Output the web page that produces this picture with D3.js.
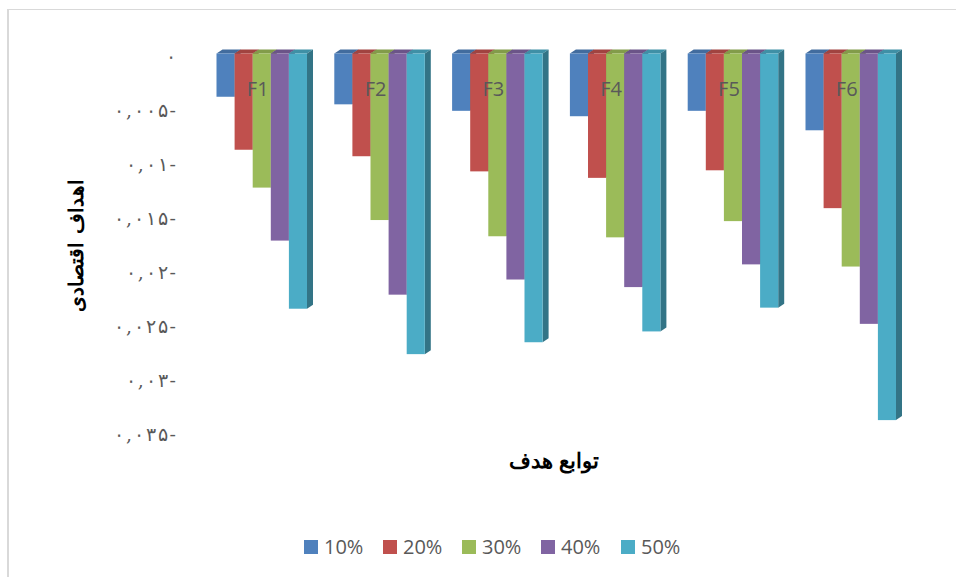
<!DOCTYPE html>
<html>
<head>
<meta charset="utf-8">
<style>
html,body{margin:0;padding:0;background:#fff;}
svg{display:block;}
</style>
<script src="https://cdn.jsdelivr.net/npm/d3@7"></script>
</head>
<body>
<svg id="chart" width="956" height="577"></svg>
<script>
const categories = ["F1","F2","F3","F4","F5","F6"];
const seriesNames = ["10%","20%","30%","40%","50%"];
const seriesColors = ["#4f81bd","#c0504d","#9bbb59","#8064a2","#4bacc6"];
const values10 = [-0.0040,-0.0047,-0.0053,-0.0058,-0.0053,-0.0071];
const values20 = [-0.0089,-0.0095,-0.0109,-0.0115,-0.0108,-0.0143];
const values30 = [-0.0124,-0.0154,-0.0169,-0.0170,-0.0155,-0.0197];
const values40 = [-0.0173,-0.0223,-0.0209,-0.0216,-0.0195,-0.0250];
const values50 = [-0.0236,-0.0278,-0.0267,-0.0257,-0.0235,-0.0339];
const seriesValues = [values10,values20,values30,values40,values50];
const tickValues = [0,-0.005,-0.01,-0.015,-0.02,-0.025,-0.03,-0.035];
const tickLabels = ["۰","۰,۰۰۵-","۰,۰۱-","۰,۰۱۵-","۰,۰۲-","۰,۰۲۵-","۰,۰۳-","۰,۰۳۵-"];
const xTitle = "توابع هدف";
const yTitle = "اهداف اقتصادی";

const svg = d3.select("#chart");

// chart frame, open at the bottom and right edges of the page
svg.append("path")
  .attr("d","M8,577V9.5H956")
  .attr("fill","none").attr("stroke","#d9d9d9").attr("stroke-width",1);
svg.append("line")
  .attr("x1",8).attr("x2",8).attr("y1",9).attr("y2",577)
  .attr("stroke","#d9d9d9").attr("stroke-width",2);

const y = d3.scaleLinear().domain([0,-0.035]).range([53.5,432]);
const x0 = d3.scaleBand().domain(categories).range([202.6,909.4]);
const x1 = d3.scaleBand().domain(seriesNames).range([0,90.5]);
const depthX = 6, depthY = 4;

const shade = (c,k) => d3.rgb(c).darker(k).formatHex();

const groups = svg.append("g").selectAll("g").data(categories).join("g")
  .attr("transform",d=>`translate(${x0(d)+x0.bandwidth()/2-45},0)`);

groups.each(function(cat,ci){
  const g = d3.select(this);
  seriesNames.forEach((name,si)=>{
    const bx = x1(name), bw = x1.bandwidth();
    const y0 = y(0), yv = y(seriesValues[si][ci]);
    // top face of the column
    g.append("path")
      .attr("d",`M${bx},${y0}l${depthX},-${depthY}h${bw}l-${depthX},${depthY}z`)
      .attr("fill",shade(seriesColors[si],0.5));
    // right-hand face, seen only where no neighbour covers it
    g.append("path")
      .attr("d",`M${bx+bw},${y0}l${depthX},-${depthY}V${yv-depthY}l-${depthX},${depthY}z`)
      .attr("fill",shade(seriesColors[si],1.1));
    // front face
    g.append("rect")
      .attr("x",bx).attr("y",y0)
      .attr("width",bw).attr("height",yv-y0)
      .attr("fill",seriesColors[si]);
  });
  g.append("text")
    .attr("x",x1.bandwidth()*2.5-4).attr("y",96)
    .attr("text-anchor","middle")
    .attr("font-family","'Open Sans',sans-serif")
    .attr("font-size",20)
    .attr("fill","#595959")
    .text(cat);
});

// value axis: labels only, the axis line and ticks are hidden
const axis = d3.axisLeft(y).tickValues(tickValues).tickSize(0)
  .tickFormat((d,i)=>tickLabels[i]);
const axisG = svg.append("g").attr("transform","translate(179,0)").call(axis);
axisG.select(".domain").remove();
axisG.selectAll("text")
  .attr("font-family","'DejaVu Serif','Liberation Serif',serif")
  .attr("font-size",19)
  .attr("fill","#595959")
  .attr("direction","ltr")
  .style("unicode-bidi","bidi-override")
  .attr("dy","0.46em")
  // widen the digit run, which ignores letter-spacing in this font
  .each(function(){
    const len = this.getComputedTextLength();
    if (this.textContent.length > 1) {
      d3.select(this).attr("textLength",len*1.18).attr("lengthAdjust","spacing");
    }
  });

svg.append("text")
  .attr("x",554).attr("y",468)
  .attr("text-anchor","middle")
  .attr("font-family","'Liberation Serif',serif")
  .attr("font-weight","bold").attr("font-size",21)
  .attr("fill","#000").text(xTitle);

svg.append("text")
  .attr("transform","translate(83,245) rotate(-90)")
  .attr("text-anchor","middle")
  .attr("font-family","'Liberation Serif',serif")
  .attr("font-weight","bold").attr("font-size",20)
  .attr("word-spacing",3)
  .attr("fill","#000").text(yTitle);

// legend
const legendX = [304,383,462,541,621];
const legend = svg.append("g").selectAll("g").data(seriesNames).join("g")
  .attr("transform",(d,i)=>`translate(${legendX[i]},540)`);
legend.append("rect").attr("width",14).attr("height",14)
  .attr("fill",(d,i)=>seriesColors[i]);
legend.append("text").attr("x",20).attr("y",14)
  .attr("font-family","'Open Sans',sans-serif")
  .attr("font-size",20).attr("fill","#595959")
  .text(d=>d);
</script>
</body>
</html>
